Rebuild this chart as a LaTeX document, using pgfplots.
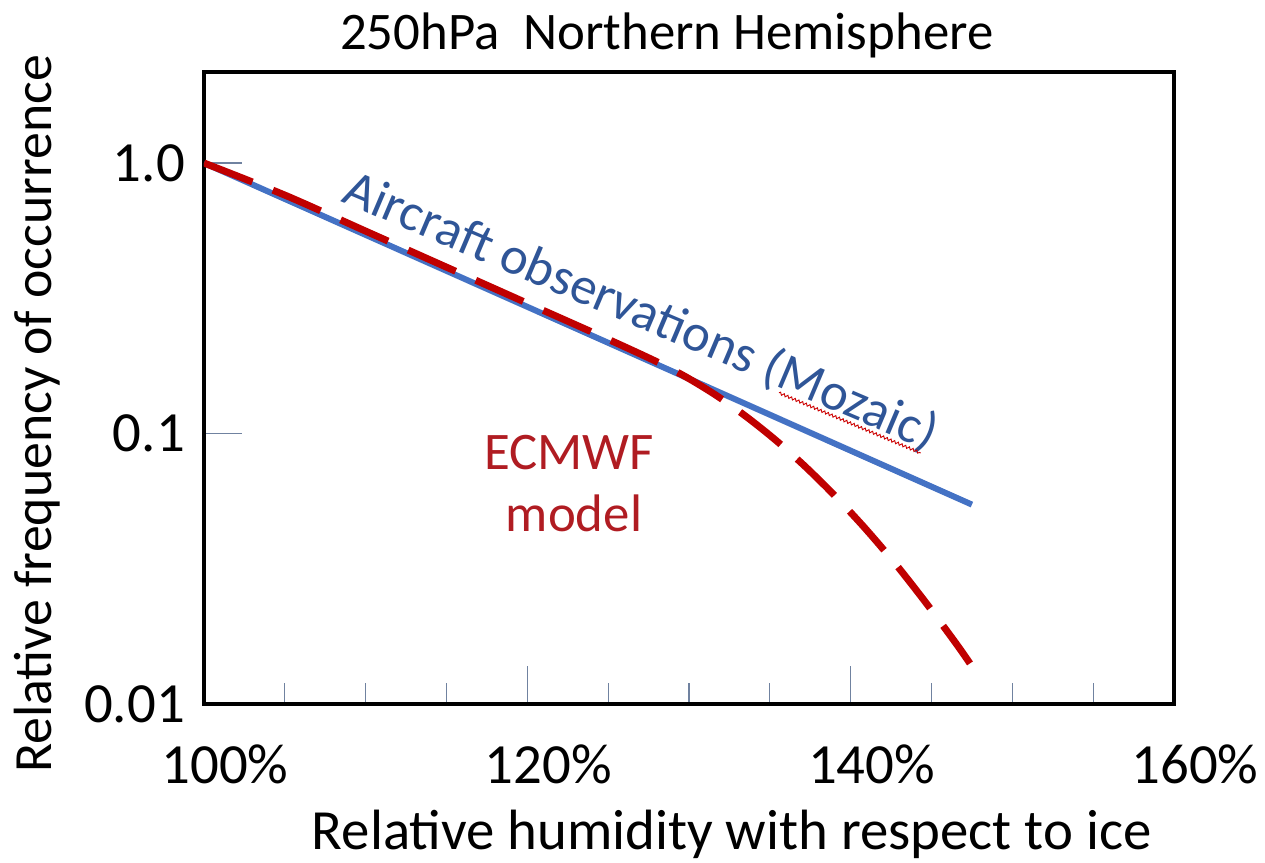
\documentclass[border=0pt]{standalone}
\usepackage{fontspec}
\setmainfont{Carlito}
\usepackage{pgfplots}
\pgfplotsset{compat=1.18}
\usetikzlibrary{decorations.pathmorphing}

\definecolor{obsblue}{RGB}{68,114,196}
\definecolor{obstext}{RGB}{47,85,151}
\definecolor{modelred}{RGB}{192,0,0}
\definecolor{modeltext}{RGB}{176,28,34}
\definecolor{tickgray}{RGB}{112,130,160}

\newcommand{\bigfont}{\fontsize{53}{60}\selectfont}
\newcommand{\tickfont}{\fontsize{57}{62}\selectfont}

\begin{document}
\begin{tikzpicture}
\path[use as bounding box] (-204bp,-159bp) rectangle (1061bp,704bp);
\begin{axis}[
  at={(0,0)}, anchor=south west,
  scale only axis, width=970bp, height=632bp,
  xmin=100, xmax=160,
  ymode=log, ymin=0.01, ymax=2.17,
  axis line style={line width=3.5bp, black},
  tick align=inside,
  xtick pos=bottom, ytick pos=left,
  xtick={100,120,140,160},
  xticklabels={100\%,120\%,140\%,160\%},
  minor xtick={105,110,115,125,130,135,145,150,155},
  ytick={0.01,0.1,1},
  yticklabels={0.01,0.1,1.0},
  yminorticks=false,
  major tick length=38bp, minor tick length=21bp,
  tick style={draw=tickgray, line width=1.3bp},
  xticklabel style={font=\tickfont, anchor=base, inner sep=0pt, yshift=-79bp, xshift=21bp},
  yticklabel style={font=\tickfont, anchor=east, inner sep=0pt, xshift=-19bp},
  title={250hPa\ \ Northern Hemisphere},
  title style={at={(axis description cs:0.477,1)}, anchor=base, inner sep=0pt, yshift=17bp, font=\bigfont},
  xlabel={Relative humidity with respect to ice},
  xlabel style={at={(axis description cs:0.544,0)}, anchor=base, inner sep=0pt, yshift=-145bp, font=\fontsize{57}{62}\selectfont},
  ylabel={Relative frequency of occurrence},
  ylabel style={at={([xshift=-152bp]axis description cs:0,0.459)}, anchor=base, inner sep=0pt, font=\fontsize{54}{60}\selectfont},
]
% MOZAIC aircraft climatology: straight line in log space
\addplot[obsblue, line width=6bp] coordinates {(100,1.0) (147.5,0.0546)};
% ECMWF model distribution
\addplot[modelred, line width=7bp, dash pattern=on 52bp off 22bp, smooth, tension=0.5] coordinates {
  (100,1.0) (105,0.761) (110,0.560) (115,0.412) (120,0.303) (125,0.223)
  (127.96,0.1848) (129.81,0.1619) (131.67,0.1385) (133.52,0.1157) (135.38,0.0943)
  (137.23,0.0751) (139.09,0.0583) (140.94,0.0443) (142.80,0.0328) (144.65,0.0237)
  (146.51,0.01677) (147.38,0.01413)
};
\node[text=obstext, font=\bigfont, rotate=-23, anchor=base west, inner sep=0pt] (obslabel)
  at (axis cs:108.41,0.7231) {Aircraft observations (Mozaic)};
\node[text=modeltext, font=\bigfont, anchor=base, inner sep=0pt] at (axis cs:122.58,0.0736) {ECMWF};
\node[text=modeltext, font=\bigfont, anchor=base, inner sep=0pt] at (axis cs:122.89,0.0434) {model};
\end{axis}
% wavy underline beneath "Mozaic"
\begin{scope}[shift={(obslabel.base west)}, rotate=-23]
  \draw[red!80!black, line width=0.9bp, decorate, decoration={snake, amplitude=1.3bp, segment length=4bp}]
    (479bp,-5bp) -- (633bp,-5bp);
\end{scope}
\end{tikzpicture}
\end{document}
